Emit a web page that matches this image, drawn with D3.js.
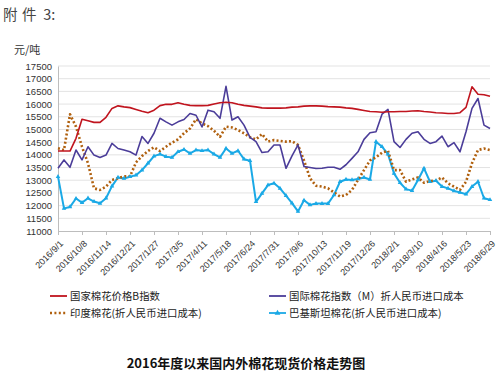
<!DOCTYPE html>
<html>
<head>
<meta charset="utf-8">
<script src="https://cdn.jsdelivr.net/npm/d3@7/dist/d3.min.js"></script>
<style>
  body { margin: 0; background: #fff; }
  text { font-family: "Liberation Sans", "Noto Sans CJK SC", sans-serif; }
  .cjk { font-family: "Noto Sans CJK SC", sans-serif; }
</style>
</head>
<body>
<svg id="chart"></svg>
<script>
const chartSize = { width: 500, height: 374 };
const margin = { left: 58, right: 10, top: 66, bottom: 143 };
const width = chartSize.width - margin.left - margin.right;
const height = chartSize.height - margin.top - margin.bottom;

const parseDate = d3.timeParse("%Y/%-m/%-d");
const startDate = "2016/9/1";
const endDate = "2018/6/29";
const sampleHours = 222; // one sample every 9.25 days

const tickLabels = [
	"2016/9/1", "2016/10/8", "2016/11/14", "2016/12/21", "2017/1/27", "2017/3/5",
	"2017/4/11", "2017/5/18", "2017/6/24", "2017/7/31", "2017/9/6", "2017/10/13",
	"2017/11/19", "2017/12/26", "2018/2/1", "2018/3/10", "2018/4/16", "2018/5/23", "2018/6/29"
];
const yTicks = d3.range(11000, 17501, 500);

const seriesNames = [
	"国家棉花价格B指数",
	"国际棉花指数（M）折人民币进口成本",
	"印度棉花(折人民币进口成本)",
	"巴基斯坦棉花(折人民币进口成本)"
];

const chinaB = [
	14150, 14150, 14150, 14650, 15400, 15340, 15280, 15280, 15480, 15830, 15930, 15890, 15860, 15790, 15720, 15660, 15760, 15940, 15990,
	15990, 16050, 15990, 15950, 15940, 15940, 15950, 16000, 16050, 16070, 16050, 15990, 15950, 15920, 15890, 15850, 15840, 15840,
	15840, 15850, 15880, 15890, 15920, 15930, 15930, 15920, 15900, 15890, 15880, 15850, 15830, 15790, 15750, 15710, 15700, 15680, 15700,
	15700, 15710, 15710, 15730, 15740, 15710, 15690, 15660, 15650, 15630, 15630, 15660, 15870, 16680, 16390, 16370, 16310
];
const indexM = [
	13470, 13800, 13510, 14190, 13800, 14320, 13990, 13900, 13990, 14450, 14250, 14190, 14120, 13990, 14720, 14450, 14850, 15440, 15300,
	15170, 15300, 15390, 15630, 15560, 15100, 15760, 15700, 15440, 16700, 15370, 15500, 15170, 14690, 14520, 14090, 14120, 14390,
	14390, 13470, 13960, 14390, 13540, 13500, 13460, 13470, 13510, 13510, 13430, 13610, 13860, 14120, 14610, 14870, 14910, 15600, 15790,
	14520, 14290, 14610, 14850, 14910, 14610, 14450, 14520, 14740, 14320, 14480, 14120, 14910, 15830, 16220, 15170, 15040
];
const india = [
	14260, 14190, 15600, 15110, 14320, 13670, 12680, 12620, 12750, 13010, 13080, 13150, 13150, 13700, 13950, 14150, 14300, 14150, 14320,
	14480, 14610, 14850, 15040, 15400, 15240, 15130, 14950, 14710, 15110, 15080, 14980, 14850, 14690, 14610, 14820, 14520, 14580,
	14550, 14520, 14540, 14390, 13780, 13080, 12780, 12750, 12680, 12520, 12360, 12420, 12620, 13010, 13400, 13780, 13900, 14090, 14160,
	13400, 13400, 12940, 13030, 13110, 12900, 12970, 12980, 13110, 12880, 12750, 12620, 12940, 13670, 14190, 14250, 14190
];
const pakistan = [
	13140, 11890, 11950, 12280, 12120, 12290, 12160, 12090, 12290, 12770, 13110, 13070, 13140, 13200, 13400, 13670, 13950, 14030, 13930,
	13900, 14120, 14210, 14060, 14190, 14160, 14190, 14030, 13900, 14250, 14060, 14160, 13830, 13770, 12150, 12480, 12810, 12880,
	12680, 12390, 12100, 11770, 12210, 12030, 12080, 12080, 12080, 12420, 12940, 13030, 13010, 13050, 13110, 13030, 14520, 14320, 14030,
	13270, 12900, 12650, 12590, 13010, 13470, 12940, 12980, 12750, 12680, 12580, 12520, 12450, 12750, 12940, 12290, 12230
];

const colors = ["#c0141e", "#4b3d99", "#b0600e", "#1aa9e6"];

const svg = d3
	.select("#chart")
	.attr("width", chartSize.width)
	.attr("height", chartSize.height);

const x = d3
	.scaleTime()
	.domain([parseDate(startDate), parseDate(endDate)])
	.range([0, width]);

const y = d3
	.scaleLinear()
	.domain([11000, 17500])
	.range([height, 0]);

const sampleDates = chinaB.map((_, i) => d3.timeHour.offset(parseDate(startDate), i * sampleHours));
const toPoints = values => values.map((v, i) => ({ date: sampleDates[i], value: v }));

const g = svg
	.append("g")
	.attr("transform", `translate(${margin.left},${margin.top})`);

// grid
g.append("g")
	.selectAll("line")
	.data(yTicks.slice(1))
	.enter()
	.append("line")
	.attr("x1", 0)
	.attr("x2", width)
	.attr("y1", d => y(d))
	.attr("y2", d => y(d))
	.attr("stroke", "#e3e3e3")
	.attr("stroke-width", 1);

const yAxis = d3
	.axisLeft(y)
	.tickValues(yTicks)
	.tickSize(0)
	.tickPadding(6)
	.tickFormat(d => d);

g.append("g")
	.attr("class", "y axis")
	.call(yAxis)
	.call(a => a.select(".domain").attr("stroke", "#bdbdbd"))
	.call(a => a.selectAll("text").attr("font-size", 9.5).attr("fill", "#333"));

const xAxis = d3
	.axisBottom(x)
	.tickValues(tickLabels.map(parseDate))
	.tickSize(4)
	.tickFormat(d3.timeFormat("%Y/%-m/%-d"));

g.append("g")
	.attr("class", "x axis")
	.attr("transform", `translate(0,${height})`)
	.call(xAxis)
	.call(a => a.select(".domain").attr("stroke", "#bdbdbd"))
	.call(a => a.selectAll(".tick line").attr("stroke", "#bdbdbd"))
	.call(a =>
		a
			.selectAll("text")
			.attr("font-size", 9)
			.attr("fill", "#333")
			.attr("text-anchor", "end")
			.attr("x", 0)
			.attr("y", 0)
			.attr("dy", "0.35em")
			.attr("transform", "translate(3,11) rotate(-45)")
	);

const line = d3
	.line()
	.x(d => x(d.date))
	.y(d => y(d.value));

const allSeries = [chinaB, indexM, india, pakistan];
const drawOrder = [3, 2, 1, 0];

drawOrder.forEach(i => {
	const path = g
		.append("path")
		.datum(toPoints(allSeries[i]))
		.attr("fill", "none")
		.attr("stroke", colors[i])
		.attr("stroke-linejoin", "round")
		.attr("d", line);
	if (i === 2) path.attr("stroke-width", 2.6).attr("stroke-dasharray", "2,2.2");
	else if (i === 3) path.attr("stroke-width", 2);
	else path.attr("stroke-width", 1.6);
});

g.append("g")
	.selectAll("path")
	.data(toPoints(pakistan))
	.enter()
	.append("path")
	.attr("d", d3.symbol(d3.symbolTriangle, 9))
	.attr("transform", d => `translate(${x(d.date)},${y(d.value)})`)
	.attr("fill", colors[3]);

// legend
const legendPos = [
	{ x: 50, y: 296 },
	{ x: 269, y: 296 },
	{ x: 50, y: 313 },
	{ x: 269, y: 313 }
];

const legend = svg
	.append("g")
	.selectAll("g")
	.data(seriesNames)
	.enter()
	.append("g")
	.attr("transform", (d, i) => `translate(${legendPos[i].x},${legendPos[i].y})`);

legend
	.append("line")
	.attr("x1", 0)
	.attr("x2", 17)
	.attr("stroke", (d, i) => colors[i])
	.attr("stroke-width", (d, i) => (i === 2 ? 2.4 : 1.8))
	.attr("stroke-dasharray", (d, i) => (i === 2 ? "2,2.4" : null));

legend
	.filter((d, i) => i === 3)
	.append("path")
	.attr("d", d3.symbol(d3.symbolTriangle, 14))
	.attr("transform", "translate(8.5,0)")
	.attr("fill", colors[3]);

legend
	.append("text")
	.attr("class", "cjk")
	.attr("x", 20)
	.attr("dy", "0.35em")
	.attr("font-size", 10.4)
	.attr("fill", "#222")
	.text(d => d);

// "附件 3:" header, glyphs spaced as in the scan
const header = svg
	.append("text")
	.attr("class", "cjk")
	.attr("y", 20)
	.attr("font-size", 14.5)
	.attr("fill", "#444");
[["附", 3], ["件", 22], [" 3:", 40]].forEach(([t, px]) =>
	header.append("tspan").attr("x", px).text(t)
);

svg.append("text")
	.attr("class", "cjk")
	.attr("x", 14)
	.attr("y", 54)
	.attr("font-size", 11)
	.attr("fill", "#333")
	.text("元/吨");

svg.append("text")
	.attr("class", "cjk")
	.attr("x", 246)
	.attr("y", 368)
	.attr("text-anchor", "middle")
	.attr("font-size", 13)
	.attr("font-weight", "bold")
	.attr("fill", "#111")
	.text("2016年度以来国内外棉花现货价格走势图");
</script>
</body>
</html>
